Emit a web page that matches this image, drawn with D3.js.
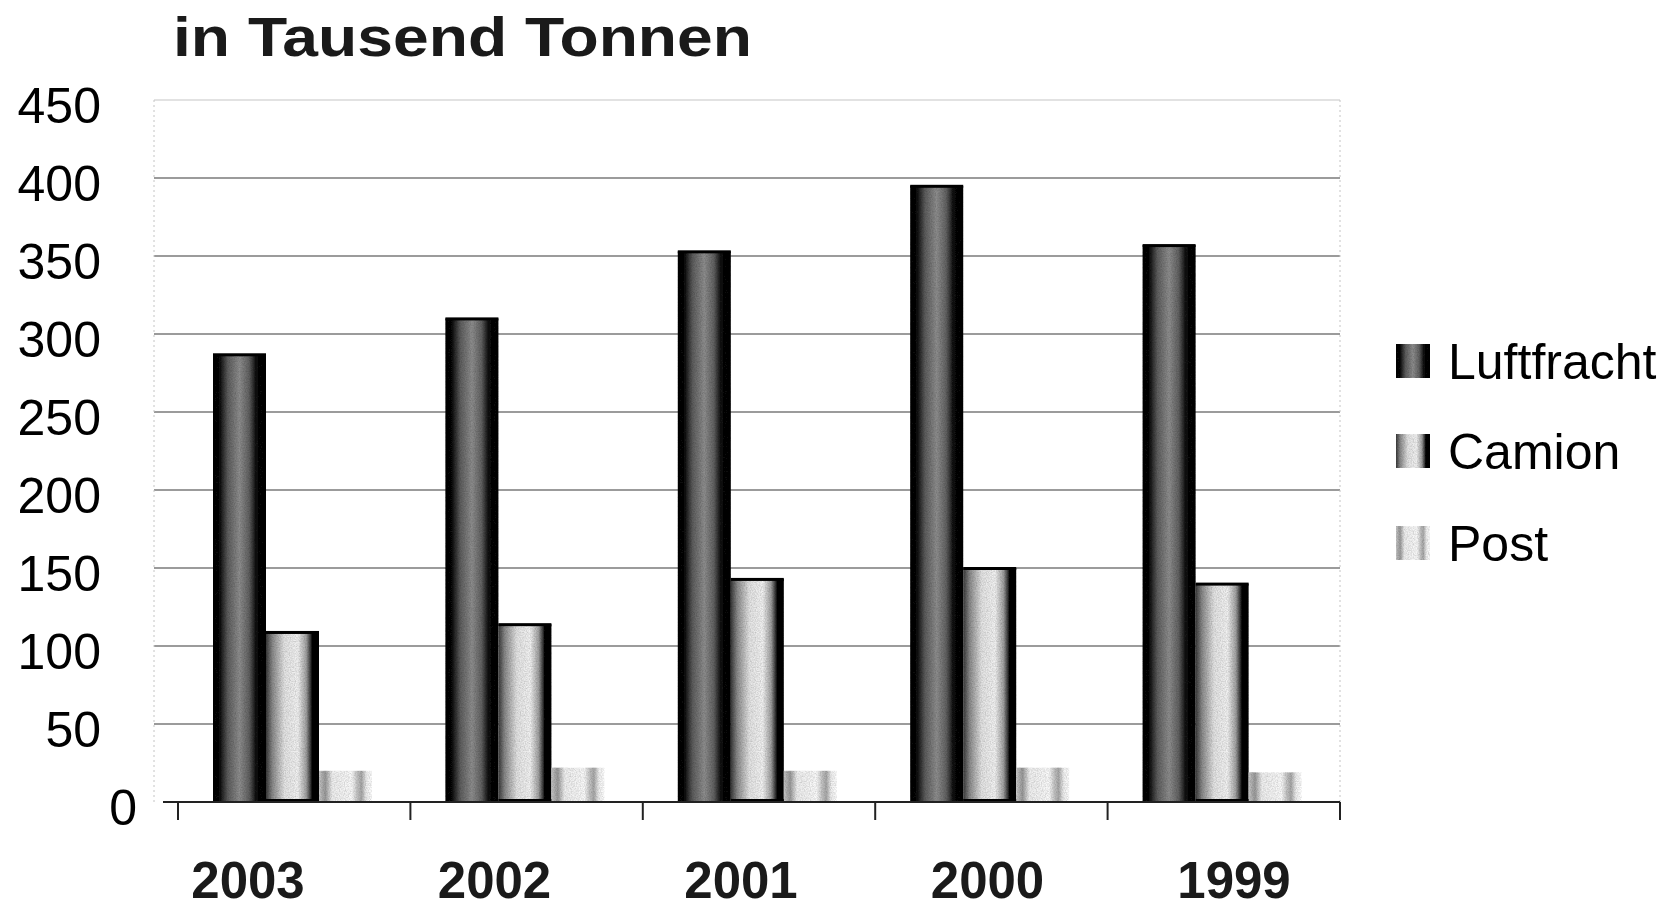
<!DOCTYPE html>
<html>
<head>
<meta charset="utf-8">
<script src="https://cdn.jsdelivr.net/npm/d3@7"></script>
<style>
  body { margin: 0; background: #fff; }
  svg { display: block; font-family: "Liberation Sans", Arial, sans-serif; }
</style>
</head>
<body>
<div id="chart"></div>
<script>
// data (thousand tonnes)
var years = ['2003', '2002', '2001', '2000', '1999'];
var series = ['Luftfracht', 'Camion', 'Post'];
var luftfracht = [287, 310, 353, 395, 357];
var camion = [109, 114, 143, 150, 140];
var post = [20, 22, 20, 22, 19];
var yTicks = [0, 50, 100, 150, 200, 250, 300, 350, 400, 450];

var values = { Luftfracht: luftfracht, Camion: camion, Post: post };

var width = 1673, height = 911;
var margin = { top: 100, left: 178, right: 333, bottom: 109 };

var svg = d3.select('#chart').append('svg')
  .attr('width', width)
  .attr('height', height);

// gradients imitating the cylinder shading of the original
var defs = svg.append('defs');
var gradients = {
  Luftfracht: [[0, '#000'], [0.14, '#151515'], [0.28, '#5e5e5e'], [0.5, '#8e8e8e'], [0.68, '#626262'], [0.8, '#181818'], [1, '#000']],
  Camion: [[0, '#3a3a3a'], [0.12, '#8a8a8a'], [0.35, '#e4e4e4'], [0.6, '#f2f2f2'], [0.76, '#a0a0a0'], [0.84, '#3a3a3a'], [0.88, '#000'], [1, '#000']],
  Post: [[0, '#c8c8c8'], [0.12, '#9a9a9a'], [0.25, '#efefef'], [0.62, '#fafafa'], [0.72, '#c6c6c6'], [0.8, '#a8a8a8'], [0.9, '#f2f2f2'], [1, '#fff']]
};
series.forEach(function(s) {
  var g = defs.append('linearGradient')
    .attr('id', 'grad-' + s)
    .attr('x1', '0%').attr('x2', '100%')
    .attr('y1', '0%').attr('y2', '0%');
  gradients[s].forEach(function(st) {
    g.append('stop').attr('offset', st[0]).attr('stop-color', st[1]);
  });
});

// halftone-ish grain
var grain = defs.append('filter').attr('id', 'grain')
  .attr('x', 0).attr('y', 0).attr('width', 1).attr('height', 1);
grain.append('feTurbulence')
  .attr('type', 'fractalNoise').attr('baseFrequency', 0.8)
  .attr('numOctaves', 2).attr('seed', 3).attr('result', 'noise');
grain.append('feColorMatrix')
  .attr('in', 'noise').attr('type', 'matrix')
  .attr('values', '0 0 0 0 0  0 0 0 0 0  0 0 0 0 0  0 0 0 0.6 -0.18')
  .attr('result', 'dots');
grain.append('feComposite')
  .attr('in', 'dots').attr('in2', 'SourceGraphic').attr('operator', 'in')
  .attr('result', 'dotsIn');
grain.append('feMerge').call(function(m) {
  m.append('feMergeNode').attr('in', 'SourceGraphic');
  m.append('feMergeNode').attr('in', 'dotsIn');
});

var x0 = d3.scaleBand()
  .domain(years)
  .range([margin.left, width - margin.right]);

var x1 = d3.scaleBand()
  .domain(series)
  .range([35, 35 + 3 * 53]);

var y = d3.scaleLinear()
  .domain([0, 450])
  .range([height - margin.bottom, margin.top]);

// year labels sit a little off the band centres in the scan
var xLabel = d3.scalePoint()
  .domain(years)
  .range([248, 1234]);

// title
svg.append('text')
  .attr('x', 173)
  .attr('y', 56)
  .attr('textLength', 579)
  .attr('lengthAdjust', 'spacingAndGlyphs')
  .style('font-size', '56px')
  .style('font-weight', 'bold')
  .style('fill', '#1a1a1a')
  .text('in Tausend Tonnen');

// gridlines
svg.append('g')
  .selectAll('line')
  .data(yTicks.slice(1))
  .enter().append('line')
  .attr('x1', 154)
  .attr('x2', width - margin.right)
  .attr('y1', function(d) { return y(d); })
  .attr('y2', function(d) { return y(d); })
  .style('stroke', function(d) { return d === 450 ? '#d8d8d8' : '#7a7a7a'; })
  .style('stroke-width', 1.3);

// faint frame at the sides of the plot
[154, width - margin.right].forEach(function(xx) {
  svg.append('line')
    .attr('x1', xx).attr('x2', xx)
    .attr('y1', y(450)).attr('y2', y(0))
    .style('stroke', '#c4c4c4')
    .style('stroke-dasharray', '2,3')
    .style('stroke-width', 1);
});

// y labels
svg.append('g')
  .selectAll('text')
  .data(yTicks)
  .enter().append('text')
  .attr('x', function(d) { return d === 0 ? 137 : 101; })
  .attr('y', function(d) { return y(d) + 23; })
  .attr('text-anchor', 'end')
  .style('font-size', '50px')
  .style('fill', '#000')
  .text(function(d) { return d; });

// bars
var groups = svg.append('g')
  .selectAll('g')
  .data(years)
  .enter().append('g')
  .attr('transform', function(d) { return 'translate(' + x0(d) + ',0)'; });

groups.selectAll('rect.bar')
  .data(function(yr, i) {
    return series.map(function(s) { return { key: s, value: values[s][i] }; });
  })
  .enter().append('rect')
  .attr('class', 'bar')
  .attr('x', function(d) { return x1(d.key); })
  .attr('width', x1.bandwidth())
  .attr('y', function(d) { return y(d.value); })
  .attr('height', function(d) { return y(0) - y(d.value); })
  .style('fill', function(d) { return 'url(#grad-' + d.key + ')'; })
  .attr('filter', 'url(#grain)');

// dark top edge on the two big series, bottom edge on Camion
groups.selectAll('rect.edge')
  .data(function(yr, i) {
    return ['Luftfracht', 'Camion'].map(function(s) { return { key: s, value: values[s][i] }; });
  })
  .enter().append('rect')
  .attr('class', 'edge')
  .attr('x', function(d) { return x1(d.key); })
  .attr('width', x1.bandwidth())
  .attr('y', function(d) { return y(d.value) - 1; })
  .attr('height', 3)
  .style('fill', '#000');

groups.append('rect')
  .attr('x', x1('Camion'))
  .attr('width', x1.bandwidth())
  .attr('y', y(0) - 3)
  .attr('height', 4)
  .style('fill', '#000');

// baseline and ticks
svg.append('line')
  .attr('x1', 163).attr('x2', width - margin.right)
  .attr('y1', y(0)).attr('y2', y(0))
  .style('stroke', '#222')
  .style('stroke-width', 2);

var tickX = years.map(function(d) { return x0(d); }).concat([x0.range()[1]]);
svg.append('g')
  .selectAll('line')
  .data(tickX)
  .enter().append('line')
  .attr('x1', function(d) { return d; })
  .attr('x2', function(d) { return d; })
  .attr('y1', y(0))
  .attr('y2', y(0) + 18)
  .style('stroke', '#222')
  .style('stroke-width', 2);

// year labels
svg.append('g')
  .selectAll('text')
  .data(years)
  .enter().append('text')
  .attr('x', function(d) { return xLabel(d); })
  .attr('y', 898)
  .attr('text-anchor', 'middle')
  .style('font-size', '51px')
  .style('font-weight', 'bold')
  .style('fill', '#1a1a1a')
  .text(function(d) { return d; });

// legend
var legend = svg.append('g')
  .selectAll('g')
  .data(series)
  .enter().append('g')
  .attr('transform', function(d, i) { return 'translate(1396,' + [361, 451, 543][i] + ')'; });

legend.append('rect')
  .attr('x', 0)
  .attr('y', -17)
  .attr('width', 34)
  .attr('height', 34)
  .style('fill', function(d) { return 'url(#grad-' + d + ')'; })
  .attr('filter', 'url(#grain)');

legend.append('text')
  .attr('x', 52)
  .attr('y', 18)
  .style('font-size', '50px')
  .style('fill', '#000')
  .text(function(d) { return d; });
</script>
</body>
</html>
